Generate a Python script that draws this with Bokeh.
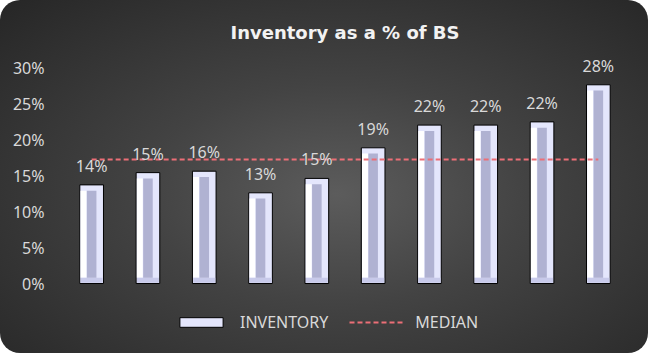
import numpy as np
from bokeh.plotting import figure
from bokeh.models import ColumnDataSource, FactorRange, Range1d, FixedTicker, Legend, LegendItem
from bokeh.transform import dodge
from bokeh.core.properties import value
from bokeh.embed import file_html
from bokeh.resources import INLINE

categories = ["P1", "P2", "P3", "P4", "P5", "P6", "P7", "P8", "P9", "P10"]
inventory = [13.7, 15.4, 15.6, 12.6, 14.6, 18.85, 22.0, 22.0, 22.45, 27.6]
labels = ["14%", "15%", "16%", "13%", "15%", "19%", "22%", "22%", "22%", "28%"]
y_ticks = [0, 5, 10, 15, 20, 25, 30]
median_value = float(np.median(inventory))

bevel = 0.8  # bevel depth in % units
src = ColumnDataSource(dict(
    x=categories,
    top=inventory,
    inner_top=[v - bevel for v in inventory],
    label=labels,
))

p = figure(width=648, height=353, x_range=FactorRange(*categories, range_padding=0),
           y_range=Range1d(-8.33, 31.53), output_backend="svg", toolbar_location=None,
           min_border_left=63, min_border_right=22, min_border_top=56, min_border_bottom=10)

p.background_fill_color = None
p.border_fill_color = None
p.outline_line_color = None
p.styles = {
    "background": "radial-gradient(ellipse farthest-corner at 52% 55%, #5c5c5c 0%, #434343 40%, #262626 100%)",
    "border-radius": "20px",
}
p.xgrid.visible = False
p.ygrid.visible = False

# bars (bevelled look)
outer = p.vbar(x="x", top="top", bottom=0, width=0.42, source=src,
               fill_color="#E4E6FC", line_color="#000000", line_width=1)
p.vbar(x=dodge("x", -0.145, range=p.x_range), top="inner_top", bottom=bevel, width=0.105,
       source=src, fill_color="#FFFFFF", line_color=None)
p.vbar(x="x", top=bevel, bottom=0.1, width=0.39, source=src,
       fill_color="#C8CAEA", line_color=None)
p.vbar(x="x", top="inner_top", bottom=bevel, width=0.17, source=src,
       fill_color="#B0B2D2", line_color=None)

# median line
med = p.line(x=[categories[0], categories[-1]], y=[median_value, median_value],
             line_color="#EC6F77", line_width=2, line_dash="5 3")

# data labels
p.text(x="x", y="top", text="label", source=src, text_align="center",
       text_baseline="bottom", y_offset=-8, text_font=value("Noto Sans"),
       text_font_size="16px", text_color="#D9D9D9")

# axes
p.xaxis.visible = False
p.yaxis.ticker = FixedTicker(ticks=y_ticks)
p.yaxis.major_label_overrides = {t: f"{t}%" for t in y_ticks}
p.yaxis.axis_line_color = None
p.yaxis.major_tick_line_color = None
p.yaxis.minor_tick_line_color = None
p.yaxis.major_label_standoff = 13
p.yaxis.major_label_text_font = "Noto Sans"
p.yaxis.major_label_text_font_size = "16px"
p.yaxis.major_label_text_color = "#D9D9D9"

# title
p.title.text = "Inventory as a % of BS"
p.title.align = "center"
p.title.text_font = "DejaVu Sans"
p.title.text_font_style = "bold"
p.title.text_font_size = "18px"
p.title.text_color = "#F2F2F2"
p.title.standoff = 28

legend = Legend(items=[LegendItem(label="INVENTORY", renderers=[outer]),
                       LegendItem(label="MEDIAN", renderers=[med])],
                orientation="horizontal", location=(111, 10),
                glyph_width=54, glyph_height=12, label_standoff=12, spacing=21,
                padding=0, margin=0,
                background_fill_alpha=0, border_line_color=None,
                label_text_font="Noto Sans", label_text_font_size="16px",
                label_text_color="#D9D9D9")
p.add_layout(legend)

open("out.html", "w").write(file_html(p, INLINE))
